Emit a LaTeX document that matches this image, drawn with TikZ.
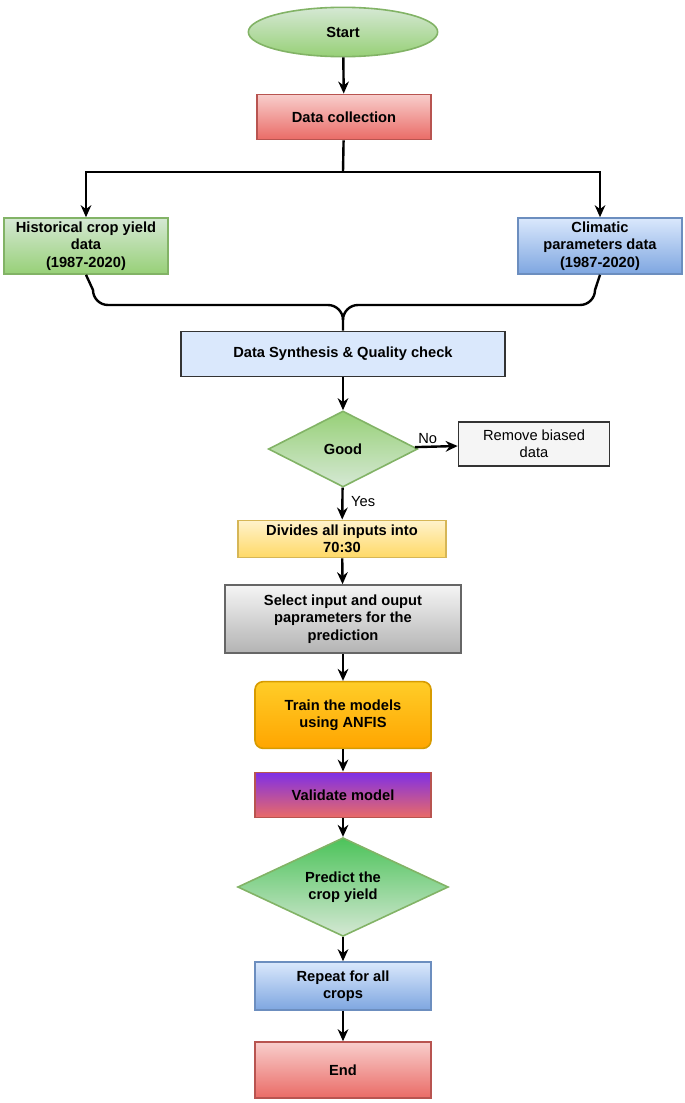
\documentclass[tikz,border=0pt]{standalone}
\usepackage{fontspec}
\setmainfont{Liberation Sans}
\usetikzlibrary{shapes.geometric,arrows.meta}
\definecolor{gA}{HTML}{D5E8D4}\definecolor{gB}{HTML}{97D077}\definecolor{gL}{HTML}{82B366}
\definecolor{rA}{HTML}{F8CECC}\definecolor{rB}{HTML}{EA6B66}\definecolor{rL}{HTML}{B85450}
\definecolor{bA}{HTML}{DAE8FC}\definecolor{bB}{HTML}{7EA6E0}\definecolor{bL}{HTML}{6C8EBF}
\definecolor{yA}{HTML}{FFF2CC}\definecolor{yB}{HTML}{FFD966}\definecolor{yL}{HTML}{D6B656}
\definecolor{sA}{HTML}{F5F5F5}\definecolor{sB}{HTML}{B3B3B3}\definecolor{sL}{HTML}{666666}
\definecolor{oA}{HTML}{FFCD28}\definecolor{oB}{HTML}{FFA500}\definecolor{oL}{HTML}{D79B00}
\definecolor{pA}{HTML}{7F2FE6}\definecolor{pG}{HTML}{4CC35A}
\begin{document}
\begin{tikzpicture}[x=0.75pt,y=-0.75pt,
 every node/.style={font=\fontsize{11}{13}\selectfont\bfseries,align=center,line width=1.2pt,inner sep=2pt},
 box/.style={rectangle,minimum width=#1*0.75pt},
 arr/.style={-{Stealth[length=9pt,width=8pt]},line width=1.8pt},
 ln/.style={line width=1.8pt}]
\useasboundingbox (0,0) rectangle (685,1103);
\node (start) [ellipse,draw=gL,top color=gA,bottom color=gB,minimum width=142pt,minimum height=37pt] at (343,32) {Start};
\node (dc) [box=174,minimum height=34pt,draw=rL,top color=rA,bottom color=rB] at (344,117) {Data collection};
\node (hist) [box=164,minimum height=42pt,draw=gL,top color=gA,bottom color=gB] at (86,246) {Historical crop yield\\data\\(1987-2020)};
\node (clim) [box=164,minimum height=42pt,draw=bL,top color=bA,bottom color=bB] at (600,246) {Climatic\\parameters data\\(1987-2020)};
\node (syn) [box=324,minimum height=34pt,draw=black!80,fill=bA] at (343,354) {Data Synthesis \& Quality check};
\node (good) [diamond,aspect=2,draw=gL,top color=gB,bottom color=gA,minimum width=112pt,minimum height=57pt,inner sep=0pt] at (343,449) {Good};
\node (rem) [box=151,minimum height=33pt,draw=black!80,fill=sA,font=\fontsize{11}{13}\selectfont] at (534,444) {Remove biased\\data};
\node (div) [box=208,minimum height=28pt,draw=yL,top color=yA,bottom color=yB] at (342,539) {Divides all inputs into\\70:30};
\node (sel) [box=236,minimum height=51pt,draw=sL,top color=sA,bottom color=sB] at (343,619) {Select input and ouput\\paprameters for the\\prediction};
\node (train) [box=176,minimum height=50pt,rounded corners=6pt,draw=oL,top color=oA,bottom color=oB] at (343,715) {Train the models\\using ANFIS};
\node (val) [box=176,minimum height=34pt,draw=rL,top color=pA,bottom color=rB] at (343,795) {Validate model};
\node (pred) [diamond,aspect=2.14,draw=gL,top color=pG,bottom color=gA,minimum width=158pt,minimum height=74pt,inner sep=0pt] at (343,887) {Predict the\\crop yield};
\node (rep) [box=176,minimum height=36pt,draw=bL,top color=bA,bottom color=bB] at (343,986) {Repeat for all\\crops};
\node (end) [box=176,minimum height=42pt,draw=rL,top color=rA,bottom color=rB] at (343,1070) {End};
\coordinate (br) at (343,172);
\draw[arr] (start) -- (dc);
\draw[ln] (dc) -- (br);
\draw[arr] (br) -| (hist.north);
\draw[arr] (br) -| (clim.north);
\draw[ln] (hist.south) -- (93,290) arc[start angle=180,end angle=90,radius=15] -- (328,305) arc[start angle=270,end angle=360,radius=15] -- (syn.north);
\draw[ln] (clim.south) -- (595,290) arc[start angle=0,end angle=90,radius=15] -- (358,305) arc[start angle=270,end angle=180,radius=15];
\draw[arr] (syn) -- (good);
\draw[arr] (good) -- node[pos=0.3,above,font=\fontsize{11}{13}\selectfont] {No} (rem);
\draw[arr] (good) -- node[pos=0.45,right=4pt,font=\fontsize{11}{13}\selectfont] {Yes} (div);
\draw[arr] (div) -- (sel);
\draw[arr] (sel) -- (train);
\draw[arr] (train) -- (val);
\draw[arr] (val) -- (pred);
\draw[arr] (pred) -- (rep);
\draw[arr] (rep) -- (end);
\end{tikzpicture}
\end{document}
